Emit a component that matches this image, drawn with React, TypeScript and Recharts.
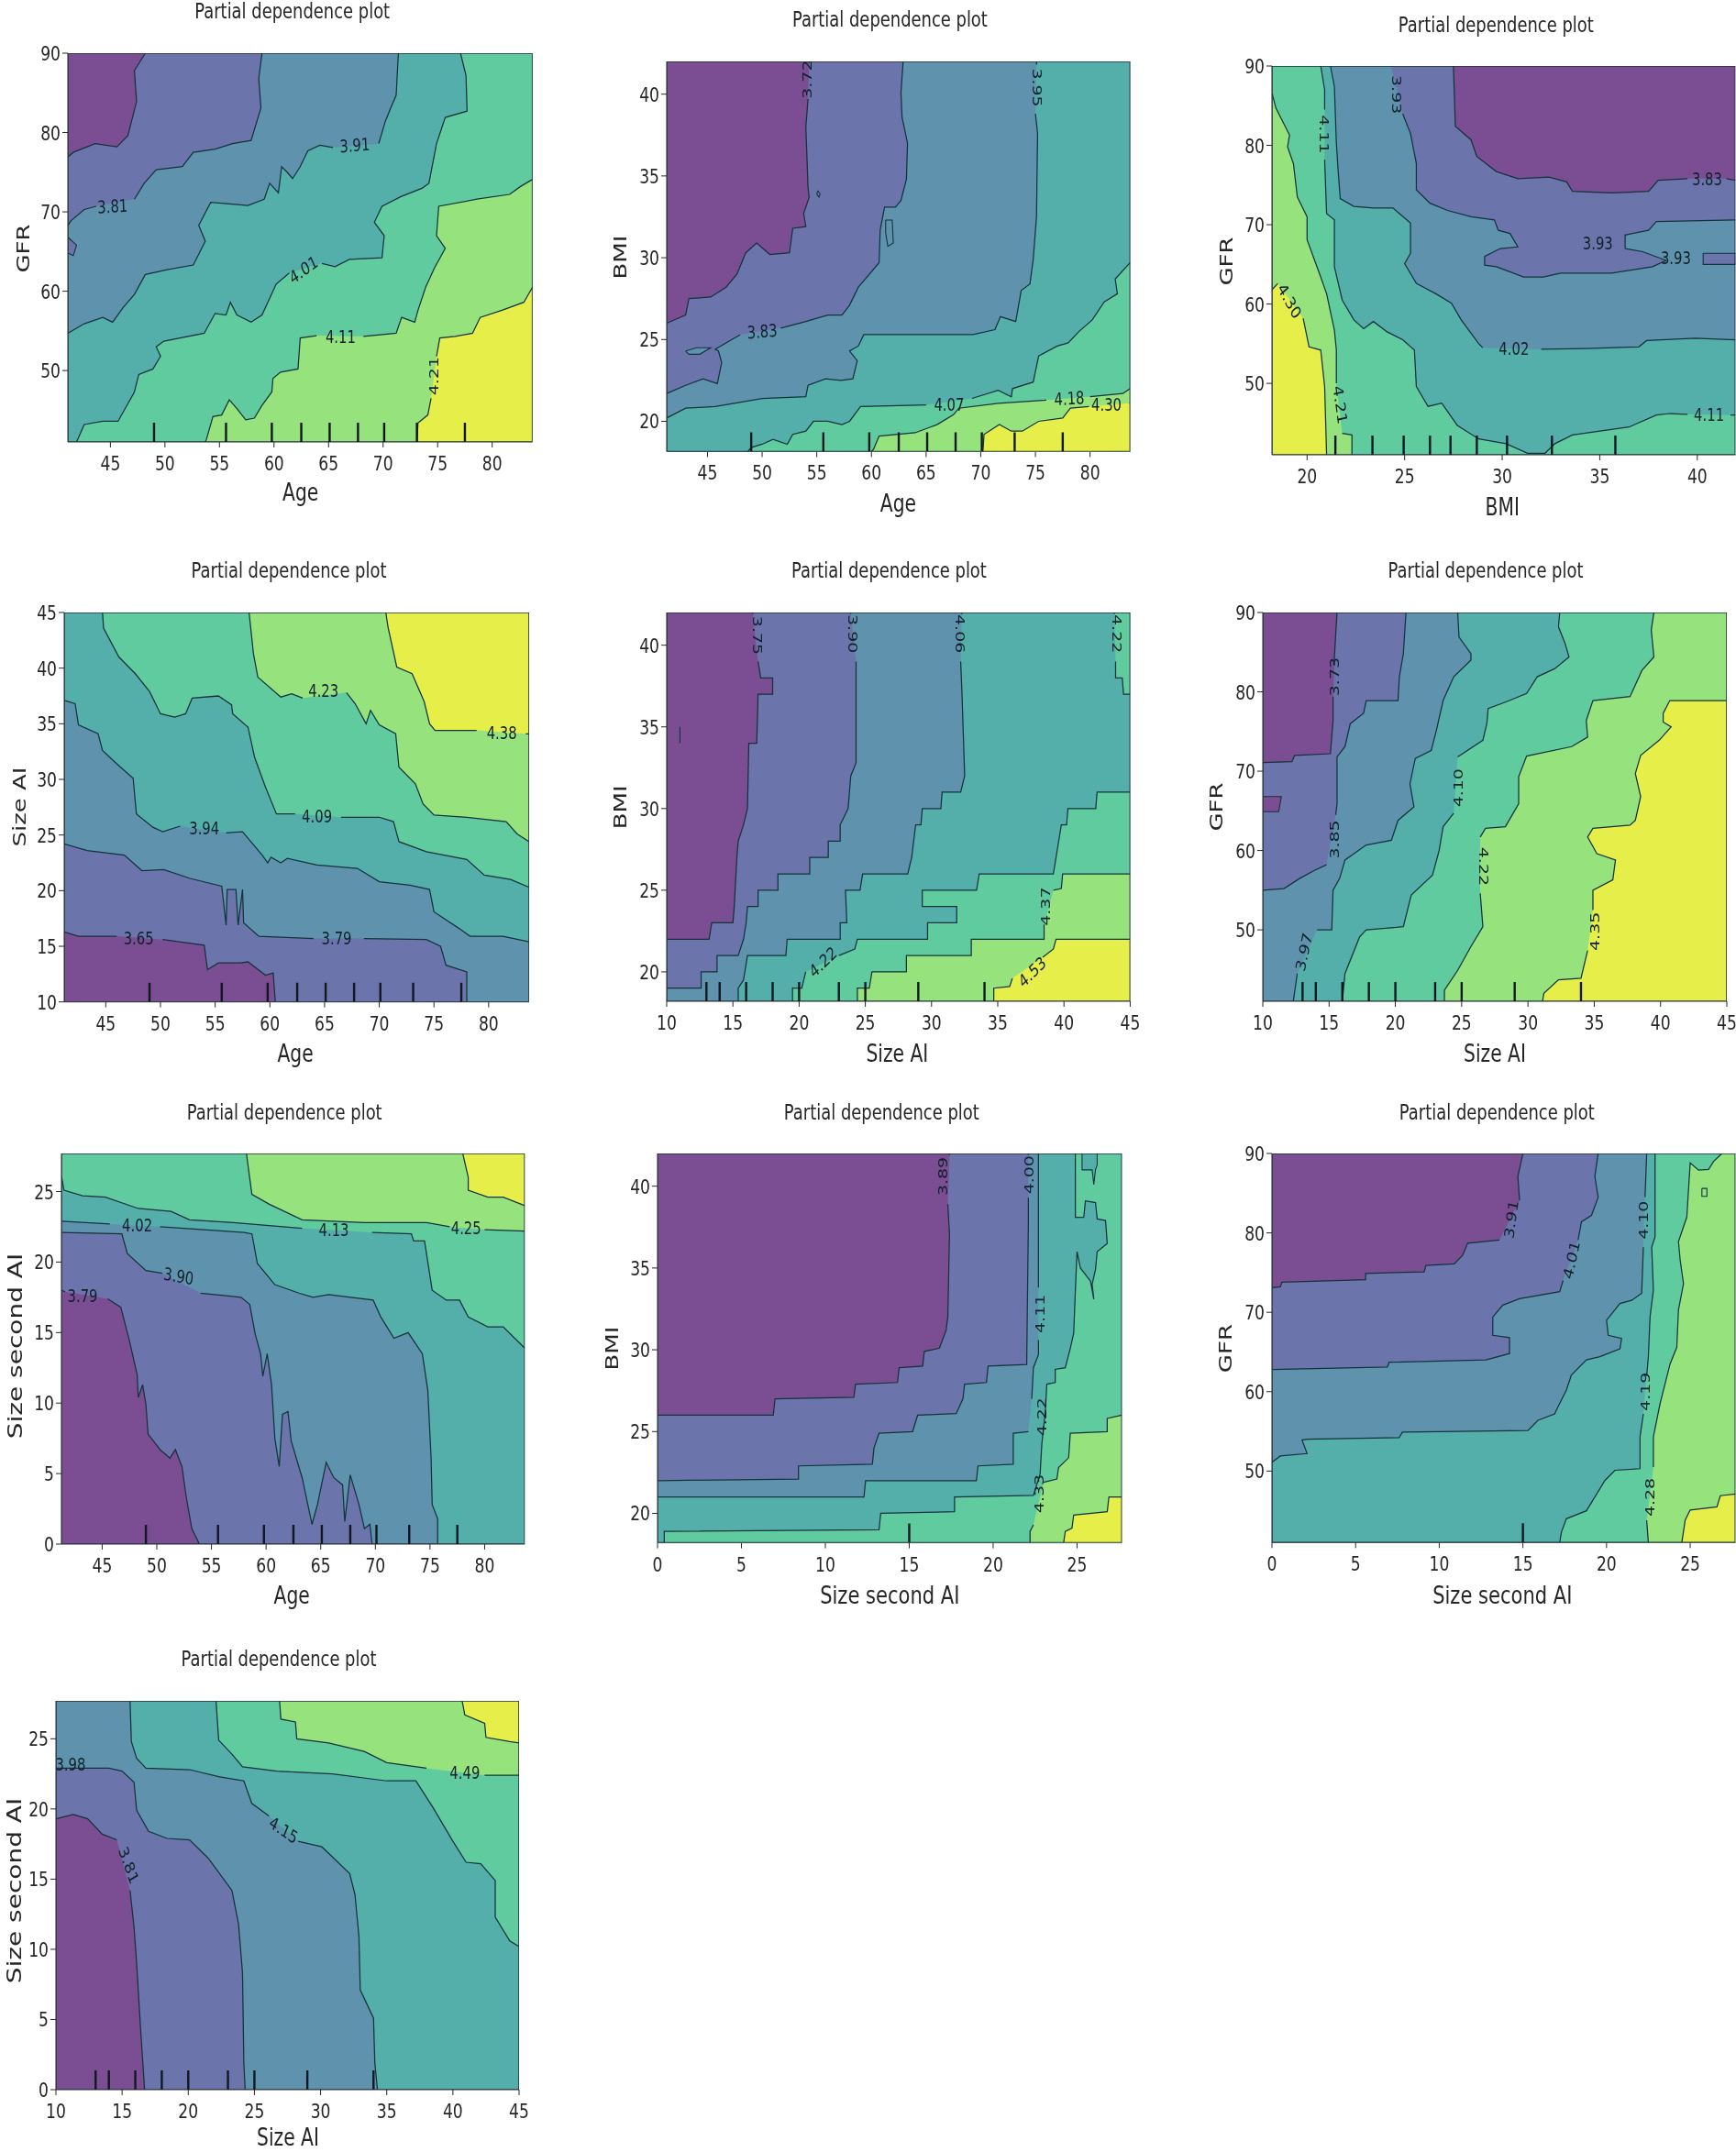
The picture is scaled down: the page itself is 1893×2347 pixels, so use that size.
import React from 'react';
import { ScatterChart, Scatter, XAxis, YAxis } from 'recharts';

type Pt = [number, number];
type Lab = [number, number, string, number];

const viridis = ['#7B4D92', '#6C74AC', '#5F93AD', '#54AFAB', '#60CB9E', '#96E37E', '#E6EE49'];
const TITLE = 'Partial dependence plot';

const ageTicks = [45, 50, 55, 60, 65, 70, 75, 80];
const gfrTicks = [50, 60, 70, 80, 90];
const bmiTicks = [20, 25, 30, 35, 40];
const sizeAiTicks = [10, 15, 20, 25, 30, 35, 40, 45];
const secondTicks = [0, 5, 10, 15, 20, 25];

const rugAge = [49, 55.6, 59.8, 62.5, 65.1, 67.7, 70.1, 73.1, 77.5];
const rugBmi = [21.45, 23.35, 24.95, 26.3, 27.35, 28.7, 30.25, 32.55, 35.8];
const rugSizeAi = [13, 14, 16, 18, 20, 23, 25, 29, 34];
const rugSecond = [15];

// ---- Panel 1: Age / GFR
const p1c1: Pt[][] = [[[48.2,90],[47.2,87.8],[47.4,83.9],[46.6,79.6],[45.6,78.2],[43.6,78.6],[41.6,77.5],[41.1,76.9]]];
const p1c2: Pt[][] = [[[58.9,90],[58.6,86.8],[58.8,83.1],[57.9,79],[56.2,78.6],[54.6,77.9],[52.6,77.5],[51.6,75.7],[49.2,75.3],[48.1,73.6],[47.2,71.6]],[[43.7,70.7],[42.6,70.3],[41.4,68.9],[41.1,68.3]]];
const p1c3: Pt[][] = [[[71.4,90],[71.2,84.7],[70.7,83.1],[70.2,81.4],[69.6,78.6]],[[65.4,78.1],[64.2,78.4],[63.1,77.7],[62.4,75.7],[61.7,74.2],[61.2,75],[60.7,75.7],[60.4,72.4],[59.6,73.6],[59.1,71.6],[57.6,70.8],[54.2,71.2],[53.1,68.3],[53.7,66.3],[52.6,63.3],[50.2,62.7],[48.2,62.1],[47.2,59.6],[46.2,58],[45.2,56.1],[44.3,56.7],[42.6,55.9],[41.1,54.7]]];
const p1c4: Pt[][] = [[[77.1,90],[77.6,87.2],[77.7,82.7],[75.7,81.9],[74.9,78.6],[74.2,73.6],[73.6,73],[71.6,71.9],[69.9,70.7],[69.2,68.7],[70.1,67],[69.9,64.2],[66.9,64],[65.6,63.1],[64.4,63.5]],[[61.4,62.3],[60.2,60.9],[58.9,57],[57.9,56.1],[56.6,57],[56,58.6],[55.6,57],[54.6,57.2],[53.6,54.7],[49.9,53.7],[49.2,53],[49.6,51.8],[48.9,50.2],[47.6,49.5],[47.2,47.3],[45.7,43.6],[44.3,43.6],[42.6,43.2],[41.9,41]]];
const p1c5: Pt[][] = [[[83.7,74.1],[82.6,73.2],[81.6,72.2],[78.6,71.6],[75.1,70.7],[74.9,67],[75.7,65.4],[74.7,62.9],[73.9,60.5],[73.2,57.6],[72.9,56.1],[71.7,56.7],[71.2,54.7],[68.2,54.3]],[[63.9,54.4],[62.4,54.1],[62.2,50.2],[60.6,49.8],[59.9,49],[59.8,47.3],[58.9,45.6],[58.2,44],[57.4,43.8],[56.6,45.2],[55.9,46.3],[55.2,44.4],[54.4,44.2],[53.8,41.3],[53.7,41]]];
const p1c6: Pt[][] = [[[83.7,60.5],[82.9,58.6],[80.9,57.6],[78.9,56.7],[78.2,54.7],[76.6,54.3],[75.2,54.1],[74.9,51.8]],[[74.4,46.5],[74.1,44.4],[73.2,43.4],[73.1,41]]];
const p1Labels: Lab[] = [[45.2,70.7,'3.81',-3],[67.4,78.4,'3.91',-4],[62.7,62.7,'4.01',-30],[66.1,54.3,'4.11',0],[74.6,49.3,'4.21',-90]];
const p1Islands: Pt[][] = [[[41.1,66.8],[41.9,65.8],[41.6,64.5],[41.1,64.8]]];
const p1IslandLevels = [1];

// ---- Panel 2: Age / BMI
const p2c1: Pt[][] = [[[54.3,42],[54.3,41.9]],[[54.2,39.7],[54,38],[54.2,34.3],[54.3,33.7],[53.8,32.7],[54,31.9],[52.8,31.8],[52.5,30.3],[50.7,30.2],[49.5,30.9],[48.5,30.3],[47.7,29],[46.7,28.2],[45.3,27.6],[43.3,27.5],[43,26.5],[41.27,26]]];
const p2c2: Pt[][] = [[[62.9,42],[62.7,40.1],[62.8,38.6],[63.3,37],[63.2,34.8],[62.7,33.5],[62.2,33.1],[61.2,33.1],[60.8,31.7],[60.7,29.7],[59.7,28.9],[58.8,28.2],[58,27.1],[57.3,26.5],[56,26.5],[54,26.1],[51.7,25.7]],[[48,25.3],[45.7,24.4],[46,24.3],[46.3,23.6],[45.9,22.3],[44.6,22.6],[43,22.2],[41.27,21.7]]];
const p2c3: Pt[][] = [[[75.1,42],[75.1,41.8]],[[75,38.8],[75.2,37.6],[75.1,32.5],[74.8,29.9],[74.5,28.4],[73.7,28],[73.2,26.1],[71.8,26.4],[71.3,25.6],[69.3,25.3],[65.7,25.3],[59.3,25.3],[58.8,24.6],[58,24.3],[58.7,23.7],[58.3,22.6],[57.2,22.5],[55.8,22.6],[54.2,22.2],[54,21.5],[50,21.4],[45.7,20.9],[43,20.8],[41.27,20.2]]];
const p2c4: Pt[][] = [[[83.67,29.7],[82.3,28.7],[82.5,27.8],[81.3,27.3],[80.2,26.2],[79,25.5],[78,24.8],[77,24.6],[75.3,24],[74.8,22.4],[72.9,22],[72.8,21.5],[71.6,21.9],[69.2,21.4]],[[65,21],[59,20.9],[58,20],[57.3,19.8],[56,20],[54.7,20],[54,19.4],[52.8,19.2],[52.3,18.6],[51,18.9],[50,18.6],[49,18.4],[48.7,18.15]]];
const p2c5: Pt[][] = [[[83.67,22],[83,21.7],[80,21.5]],[[76,21.3],[71.6,21.1],[68,20.8],[67.5,20.4],[66,19.8],[64,19.3],[60.7,19.1],[60.2,18.3],[60,18.15]]];
const p2c6: Pt[][] = [[[83.67,21.1],[83.6,21.1]],[[79.9,20.9],[78.2,20.8],[77.5,20.2],[75.3,20],[73.8,19.4],[72.8,19.4],[71.7,19.8],[70.3,19.2],[70.2,18.15]]];
const p2Labels: Lab[] = [[54.1,40.9,'3.72',-90],[75.2,40.4,'3.95',90],[50,25.5,'3.83',-4],[67.1,21,'4.07',0],[78.1,21.4,'4.18',-3],[81.5,21,'4.30',0]];
const p2Islands: Pt[][] = [[[43,24.3],[44,24.5],[45.3,24.5],[44.3,24.1],[43.3,24.1],[43,24.3]],[[61.3,32.3],[61.9,32.3],[62,30.9],[61.5,30.7],[61.3,31.5],[61.3,32.3]],[[55.1,34.1],[55.3,33.9],[55.2,33.7],[55,33.9],[55.1,34.1]]];
const p2IslandLevels = [2, 2, 1];

// ---- Panel 3: BMI / GFR
const p3c1: Pt[][] = [[[27.5,90],[27.6,82.4],[28.4,80.7],[28.7,78.6],[29.7,76.7],[30.8,75.8],[32.4,76],[33.3,75.4],[33.6,74.2],[35.6,74],[37.5,74.2],[38,75.6],[39.5,75.8]],[[41.5,75.8],[41.95,75.6]]];
const p3c2: Pt[][] = [[[24.3,90],[24.3,89.9]],[[24.9,84],[25.3,81.5],[25.6,77.7],[25.6,74.4],[26.3,72.7],[27.2,71.8],[28.4,71],[29.6,70.6],[29.8,69.3],[30.4,68.9],[30.8,67.2],[29.9,67],[29.1,66],[29.1,64.9],[29.7,64.7],[31.1,63.4],[32.1,63.4],[33,63.9],[35.6,63.9],[37.7,64.7],[38.4,65.5],[37.2,66.6],[36.3,67],[36.3,68.7],[37.5,69.3],[37.9,70.4],[41.95,70.6]]];
const p3c3: Pt[][] = [[[21.2,90],[21.4,87.4],[21.5,80.3],[21.6,76.5],[21.7,73.3],[22.4,72.3],[23.4,72.1],[24.4,72.1],[25.3,70.2],[25.3,66.4],[25,65.1],[25.6,62.6],[26.6,61.3],[27.4,60.1],[27.9,58],[28.8,55],[29,54.5]],[[32,54.3],[34.3,54.4],[37,54.6],[37.4,55.4],[39.9,55.7],[41.95,55.5]]];
const p3c4: Pt[][] = [[[20.7,90],[20.9,87],[20.9,84.5]],[[20.9,78.2],[21,71.4],[21.4,70.6],[21.4,64.7],[21.8,60.5],[22.4,58],[22.9,56.9],[23.4,57.8],[24.1,56.5],[24.9,55.5],[25.5,54.2],[25.6,49.6],[26.2,47.1],[26.9,47.5],[27.7,44.7],[28.8,43],[30.2,42.4],[31.3,41.2],[32.2,41.2],[32.7,42.4],[33.6,43.5],[36.5,44.5],[37.9,46],[38.6,46.2],[39.5,46.1]],[[41.7,46],[41.95,46]]];
const p3c5: Pt[][] = [[[18.2,86.6],[18.4,84.7],[19.1,81.3],[19,79.8],[19.3,77.7],[19.5,73.5],[20,71],[20,68.1],[20.7,63.4],[21,61.3],[21.4,56.7],[21.5,54.2],[21.5,50]],[[21.8,43.7],[22.3,43.5],[22.3,41]]];
const p3c6: Pt[][] = [[[18.2,61.8],[18.5,62.6]],[[19.8,58.2],[20.1,54.6],[20.7,54.2],[20.9,49.6],[21,41]]];
const p3Labels: Lab[] = [[24.6,86.4,'3.93',90],[40.5,75.8,'3.83',0],[20.9,81.4,'4.11',90],[30.6,54.4,'4.02',0],[40.6,46.1,'4.11',0],[21.7,47.3,'4.21',80],[19.1,60.4,'4.30',55],[34.9,67.7,'3.93',0],[38.9,65.8,'3.93',0]];
const p3Islands: Pt[][] = [[[40.3,66.4],[41.95,66.4],[41.95,65],[40.3,65],[40.3,66.4]]];
const p3IslandLevels = [1];

// ---- Panel 4: Age / Size AI
const p4c1: Pt[][] = [[[41.2,16.3],[42.5,15.9],[46,15.9]],[[50.2,15.6],[54,15.1],[54.3,12.9],[55.3,13.5],[57.3,13.5],[58,13.6],[59.6,12.4],[60.3,12.6],[60.5,10]]];
const p4c2: Pt[][] = [[[41.2,24.2],[43.3,23.6],[46.7,23.2],[48.3,21.8],[50.3,21.9],[52.7,21.1],[55.6,20.4],[56,16.9],[56.1,20.1],[56.9,20.1],[57.1,16.9],[57.5,20.1],[57.6,17.1],[59,15.9],[64,15.7]],[[68.6,15.7],[74.3,15.6],[75.6,15],[76.1,13.3],[78,12.7],[78,10]]];
const p4c3: Pt[][] = [[[41.2,37.1],[42.2,36.8],[42.5,34.9],[44.3,34.1],[44.7,32.6],[46,31.4],[47.5,30.1],[47.8,26.9],[49.3,25.7],[50.2,25.3],[51.8,25.8]],[[56,25.2],[57.5,25.3],[59.3,23.2],[59.8,22.5],[60.1,23],[61,22.5],[61.6,22.9],[64.3,22.3],[68,22],[70,20.8],[72.8,20.5],[74.6,20.1],[75,18.1],[77.3,16.6],[78.3,15.9],[81.3,15.9],[83.7,15.4]]];
const p4c4: Pt[][] = [[[44.7,45],[44.8,43.6],[46.2,41],[47.7,39.5],[49,37.9],[50,35.9],[51.3,35.6],[52.3,35.9],[52.9,37.3],[55.3,37.5],[56.5,36.7],[56.6,35.9],[58,34.7],[58.6,32],[59.6,29.3],[60.6,26.9],[62.3,26.9]],[[66.5,26.6],[70,26.6],[71.3,26.2],[71.8,24.4],[74.3,23.5],[78,22.8],[79.6,21.4],[82,21],[83.7,20.3]]];
const p4c5: Pt[][] = [[[58.1,45],[58.5,41.3],[58.9,39.2],[61,37.4],[62,37.7],[63,37.3]],[[67,37.8],[67.8,36.8],[68.8,35],[69.2,36.2],[70,34.9],[71.5,34.1],[71.8,31.1],[73.3,29.6],[74,27.8],[75,26.8],[78,26.6],[81.6,26.2],[82.6,25.1],[83.7,24.4]]];
const p4c6: Pt[][] = [[[70.6,45],[70.8,43.7],[71.6,40.1],[73,39.5],[74.1,37],[74.6,35],[75.1,34.4],[78.9,34.4]],[[83.4,34.1],[83.7,34.1]]];
const p4Labels: Lab[] = [[48.0,15.7,'3.65',0],[66.1,15.7,'3.79',0],[54.0,25.6,'3.94',0],[64.3,26.7,'4.09',0],[64.9,38,'4.23',0],[81.2,34.2,'4.38',0]];

// ---- Panel 5: Size AI / BMI
const p5c1: Pt[][] = [[[16.5,42],[16.5,41.9]],[[16.9,39],[17.1,38],[18,38],[18,37],[16.9,37],[16.8,34],[16.2,34],[16.1,30],[15.8,29],[15.4,28],[15.3,27],[15.1,24],[15,23],[13.4,23],[13.2,22],[10,22]]];
const p5c2: Pt[][] = [[[23.9,42],[23.9,41.9]],[[24.3,39],[24.3,32.8],[23.9,32],[23.7,30],[23.1,29],[23.1,28],[22.2,28],[22.2,27],[20.8,27],[20.8,26],[18.4,26],[18.4,25],[16.9,25],[16.9,24],[16.1,24],[16,23],[15.8,22],[15.4,21],[13.8,21],[13.8,20],[12.6,20],[12.6,19],[10,19]]];
const p5c3: Pt[][] = [[[32.3,42],[32.3,41.9]],[[32.2,39],[32.3,37],[32.5,32],[32.2,31],[30.8,31],[30.7,30],[29.3,30],[29.2,29],[28.8,29],[28.5,27],[28.2,26],[24.8,26],[24.6,25],[23.5,25],[23.6,23],[23.1,23],[23.1,22],[19.1,22],[19,21],[16.1,21],[15.8,19.5],[15.4,19],[15.4,18.2]]];
const p5c4Top: Pt[][] = [[[43.8,42],[43.8,41.9]],[[43.9,39],[43.9,38],[44.4,38],[44.5,37],[45,37]]];
const p5c4: Pt[][] = [[[45,31],[42.5,31],[42.4,30],[40.3,30],[40.2,29],[39.8,29],[39.4,27],[39.2,26],[33.6,26],[33.4,25],[29.3,25],[29.3,24],[31.9,24],[31.9,23],[29.7,23],[29.7,22],[24.4,22],[24.2,21.4],[23,21]],[[20.5,20],[20.2,19],[19.5,19],[19.5,18.2]]];
const p5c5: Pt[][] = [[[45,26],[39.9,26],[39.8,25.1],[39.2,25]],[[38.5,22.9],[38.5,22],[33,22],[33,21],[28.1,21],[28.1,20],[25.5,20],[25.3,19],[24.4,19],[24.4,18.2]]];
const p5c6: Pt[][] = [[[45,22],[39.4,22],[39.2,21.4],[38.4,20.9]],[[36.1,19.6],[35.9,19.1],[34.7,19],[34.7,18.2]]];
const p5Labels: Lab[] = [[16.9,40.6,'3.75',90],[24.1,40.7,'3.90',90],[32.2,40.7,'4.06',90],[44,40.7,'4.22',90],[21.8,20.6,'4.22',-38],[38.6,24,'4.37',-90],[37.6,20,'4.53',-38]];
const p5Islands: Pt[][] = [[[11,35],[11,34]]];
const p5IslandLevels = [0];

// ---- Panel 6: Size AI / GFR
const p6c1: Pt[][] = [[[15.6,90],[15.4,84.4],[15.4,83.3]],[[15.3,79.4],[15.3,76.4],[15.1,72.2],[12.4,72],[12.2,71.2],[10,71.1]]];
const p6c2: Pt[][] = [[[20.8,90],[20.6,84.8],[20.3,81.9],[20.2,78.9],[17.8,78.9],[17.6,77.3],[16.6,76],[16.2,73.1],[15.6,71.8],[15.6,65.9],[15.5,64.5]],[[14.8,58.2],[13.9,57.5],[12.8,56.5],[11.6,55.2],[10,55]]];
const p6c3: Pt[][] = [[[24.7,90],[24.8,86.9],[25.7,84.8],[25.7,84],[24.4,81.9],[23.6,78.9],[23.1,75.2],[22.7,72.6],[21.5,71.6],[21.1,68.4],[21.4,65.5],[20.2,63.8],[19.7,61.3],[17.8,60.7],[16.2,58.8],[15.8,56.5],[15.3,55],[15.2,50],[14.1,50]],[[12.6,44.5],[12.3,41]]];
const p6c4: Pt[][] = [[[32.4,90],[32.3,88.2],[32.8,86.1],[33.1,84.4],[32,82.9],[30.7,81.9],[29.9,79.8],[28.3,78.7],[27,77.9],[26.9,76],[26.6,73.9],[24.7,71.8]],[[24.4,64.7],[23.6,63],[23.3,60],[22.8,56.9],[21.2,54.4],[20.6,50.4],[17.8,50],[17.3,49.1],[16.2,44.5],[16,41]]];
const p6c5: Pt[][] = [[[39.5,90],[39.3,87.8],[39.5,84.4],[38.6,82.7],[37.7,79.4],[34.9,78.9],[34.4,76.4],[34.5,74.3],[33.3,73.1],[29.9,71.9],[29.3,69.3],[29.3,65.9],[28.3,63],[26.8,62.8],[26.4,61.7]],[[26.4,54.6],[26.6,50.4],[25.7,47.9],[24.7,44.9],[23.7,42.4],[23.7,41]]];
const p6c6: Pt[][] = [[[45,78.9],[40.7,78.9],[40.2,77.3],[40.2,76.2],[40.8,75.6],[39.9,73.9],[38.5,72],[38.1,69.7],[38.5,66.8],[38.1,63.8],[37.7,63.2],[34.9,62.8],[34.5,61.7],[35.2,59.6],[36.6,58.8],[36.4,56.3],[34.9,55],[34.9,52.5]],[[34.5,47.4],[34,43.9],[32.3,43.7],[31.2,42],[31.1,41]]];
const p6Labels: Lab[] = [[15.4,81.9,'3.73',-90],[15.4,61.4,'3.85',-90],[13.1,47.2,'3.97',-75],[24.7,67.9,'4.10',-90],[26.7,58,'4.22',90],[35,49.8,'4.35',-90]];
const p6Islands: Pt[][] = [[[10,66.8],[11.4,66.8],[11.2,64.9],[10,64.9]]];
const p6IslandLevels = [0];

// ---- Panel 7: Age / Size second AI
const p7c1: Pt[][] = [[[41.27,18],[41.6,17.9]],[[45.5,17.4],[46.7,16.8],[47.5,14.4],[48.2,12],[48.3,10.4],[48.7,11.3],[49,9.9],[49.2,7.8],[50.3,6.7],[51.2,6.1],[51.7,6.7],[52.3,5.5],[52.7,3.3],[53.2,1.1],[53.9,0]]];
const p7c2: Pt[][] = [[[41.27,22.1],[46.8,22],[47.3,20.6],[49,19.4],[50.5,19.2]],[[54,17.8],[57.7,17.5],[58.5,17],[59,14.9],[59.5,13.5],[59.7,11.9],[60.1,13.5],[60.5,11.3],[60.8,7.5],[61.2,5.5],[61.5,9.2],[62,9.4],[62.3,7.3],[63.3,4.7],[64.2,1.4],[64.7,2.8],[65.5,5.8],[66.2,4.7],[67,4.2],[67.2,1.6],[67.7,4.9],[68.5,2.8],[69,1.1],[69.5,1.4],[69.7,0]]];
const p7c3: Pt[][] = [[[41.27,22.9],[45.7,22.7]],[[50.3,22.5],[58,22.1],[58.7,22],[59.2,19.9],[60.8,18.4],[63,17.8],[64.3,17.5],[65.7,17.7],[69.8,17.3],[70.5,16.1],[71.7,14.6],[73,15],[74.3,13.5],[74.8,10.9],[75.1,6.1],[75.2,2.8],[75.7,1.8],[75.7,0]]];
const p7c4: Pt[][] = [[[41.27,26.1],[41.5,25.1],[43.2,24.7],[45.3,24.6],[48.3,23.8],[51.3,23.6],[53,23],[57,22.8],[63.3,22.4]],[[69.7,22.1],[73.3,22],[73.5,21.5],[74.5,21.5],[75.2,18],[76.5,17.3],[77.7,17.3],[78.5,16.1],[80.3,15.4],[81.7,15.4],[83.67,13.9]]];
const p7c5: Pt[][] = [[[58.2,27.7],[58.7,24.8],[60.3,24.1],[63.3,23],[69,22.8],[74.7,22.8],[76.8,22.5]],[[80,22.3],[83.67,22.2]]];
const p7c6: Pt[][] = [[[78,27.7],[78.5,26],[78.5,25.1],[80.3,24.6],[81.7,24.6],[83.67,24]]];
const p7Labels: Lab[] = [[43.2,17.6,'3.79',0],[48.2,22.6,'4.02',0],[52,19,'3.90',8],[66.2,22.3,'4.13',0],[78.3,22.4,'4.25',0]];

// ---- Panel 8: Size second AI / BMI
const p8c1: Pt[][] = [[[17.4,42],[17.4,41.9]],[[17.3,38.9],[17.4,37.1],[17.3,32],[17.2,31.2],[16.8,30.1],[15.9,29.9],[15.8,29],[14.4,28.9],[14.3,28],[11.8,27.9],[11.7,27.1],[7,27],[6.9,26],[0,26]]];
const p8c2: Pt[][] = [[[22.1,42],[22.1,41.9]],[[22.1,39.3],[22.1,37.9],[22,29.1],[19.7,29],[19.6,28],[18.3,27.9],[18.2,27],[17.8,26.1],[15.5,26],[15.2,25],[13.2,24.9],[12.9,24],[12.8,23],[8.4,22.9],[8.4,22.1],[0,22]]];
const p8c3: Pt[][] = [[[22.7,42],[22.7,39.3],[22.7,37.9],[22.7,33.8]],[[22.7,30.6],[22.7,29.7],[22.4,28.9],[22.3,27]],[[22.1,25],[21.2,24.9],[21.2,23],[19.1,22.9],[19,22],[12.4,22],[12.3,21],[0,21]]];
const p8c4: Pt[][] = [[[24.9,42],[24.9,38.1],[25.4,38.1],[25.5,39.1],[26.1,39],[26.2,38],[26.7,37.9],[26.8,36.5],[26.2,36],[26.1,34.9],[25.9,34],[26,33.1],[25.8,34.2],[25.2,35],[25,36],[24.9,33.6],[24.8,31],[24.6,30.1],[24.3,28.9],[23.7,28.8],[23.7,28],[23.2,27.9],[23.1,26.1],[22.9,24.2],[22.8,22.4],[22.4,21.1],[17.7,21],[17.7,20.1],[13.3,20],[13.2,19],[0.4,18.9],[0.4,18.2]]];
const p8c5: Pt[][] = [[[27.67,26],[26.8,25.8],[26.8,25],[24.6,24.9],[24.5,23.4],[23.9,22.8],[23.8,22.1],[23,21.9]],[[22.4,19.3],[22.2,18.9],[22.2,18.2]]];
const p8c6: Pt[][] = [[[27.67,21],[26.9,21],[26.8,20.1],[24.8,19.9],[24.7,19.1],[24.3,18.9],[24.2,18.2]]];
const p8Labels: Lab[] = [[17,40.6,'3.89',-90],[22.1,40.7,'4.00',-90],[22.8,32.2,'4.11',-90],[22.9,25.9,'4.22',-90],[22.7,21.2,'4.33',-90]];
const p8Islands: Pt[][] = [[[25.3,42],[25.3,41],[25.9,41],[26,40.1],[26.1,41],[26.2,41.3],[26.2,42]]];
const p8IslandLevels = [3];

// ---- Panel 9: Size second AI / GFR
const p9c1: Pt[][] = [[[15,90],[14.7,87.1],[14.8,84.1]],[[13.6,79.1],[11.7,78.7],[11.4,77.2],[10.9,76.1],[9.2,75.9],[9.1,75.1],[5.6,74.9],[5.6,74.1],[0.6,73.8],[0.5,73.2],[0,73.1]]];
const p9c2: Pt[][] = [[[19.5,90],[19.3,87.1],[19.5,84.5],[19.1,82.2],[18.5,81.4],[18.3,79.1]],[[17.4,74],[17.2,72.6],[14.8,71.7],[13.8,70.9],[13.2,69.4],[13.2,67.1],[14.2,66.8],[14.2,64.8],[12.8,64],[7,63.7],[6.9,63.1],[0,62.8]]];
const p9c3: Pt[][] = [[[22.4,90],[22.3,84.5]],[[22.2,78.2],[22.1,72.4],[21.5,71.5],[20.8,71.1],[20,69],[20.1,67.1],[20.9,66.7],[20.8,65.4],[19.6,64.4],[18.8,64],[17.9,62.1],[17.6,60.2],[17.1,58.1],[16.9,57.2],[15.9,56.4],[15.3,55.1],[7.8,54.9],[7.6,54.2],[2.1,54],[1.8,53.9],[2.1,52.2],[0.5,51.9],[0,51.1]]];
const p9c4: Pt[][] = [[[22.9,90],[22.9,79.5],[22.7,78.2],[22.8,72.8],[22.6,69.4],[22.5,64.4],[22.4,62]],[[22.2,57.2],[22,54.3],[22,50.3],[20.5,50.1],[19.9,48.8],[18.8,45],[17.6,44],[17.3,42.3],[17.2,41]]];
const p9c5: Pt[][] = [[[26.9,90],[26.4,89],[26.1,88],[25.5,87.9],[25,88.8],[24.9,85.4],[24.8,82],[24.3,78.9],[24.4,76.6],[24.6,73.6],[24.3,70.3],[24.2,65.6],[23.8,63.5],[23.2,58.5],[22.8,54.3],[22.8,50.5]],[[22.4,43.8],[22.5,41]]];
const p9c6: Pt[][] = [[[27.7,47.1],[26.8,46.9],[26.6,45.5],[25,45.1],[24.7,43.8],[24.5,41]]];
const p9Labels: Lab[] = [[14.3,81.7,'3.91',-80],[17.9,76.6,'4.01',-75],[22.2,81.6,'4.10',-90],[22.3,60,'4.19',-90],[22.6,46.7,'4.28',-90]];
const p9Islands: Pt[][] = [[[25.7,85.6],[26,85.6],[26,84.6],[25.7,84.6],[25.7,85.6]]];
const p9IslandLevels = [5];

// ---- Panel 10: Size AI / Size second AI
const p10c1: Pt[][] = [[[10,19.3],[11.3,19.6],[12.4,19.3],[13.5,18.2],[14.6,17.8]],[[15.6,14.2],[15.9,11.6],[16.1,9],[16.4,4.3],[16.7,0]]];
const p10c2: Pt[][] = [[[10,22.9],[14,22.9],[15,22.7],[15.9,21.9],[16.1,19.9],[17,18.4],[18.4,17.9],[20.1,17.8],[21.5,16.5],[23.3,14.2],[23.8,11.8],[24.1,8.3],[24.2,1.9],[24.3,0]]];
const p10c3: Pt[][] = [[[15.6,27.7],[15.7,24.8],[16.1,23.6],[16.8,22.9],[20.1,22.8],[22.3,22.3],[24.2,22],[24.8,20.4],[26.1,19.5]],[[28.3,17.7],[30.1,17.3],[32.2,15.4],[32.6,13.9],[32.9,10.9],[33,7.1],[34,5.1],[34.1,1.9],[34.3,0]]];
const p10c4: Pt[][] = [[[22.1,27.7],[22.3,24.9],[23.3,23.9],[24.1,23],[26.7,22.7],[30.9,22.5],[35,22],[37.2,22],[38.5,20.1],[40,17.7],[41,16.2],[42.1,16.1],[43.2,14.9],[43.2,12.3],[44.3,10.6],[45,10.2]]];
const p10c5: Pt[][] = [[[26.9,27.7],[27,26.4],[28.1,26.2],[28.2,25],[30.6,24.7],[33.3,24.1],[35,23.3],[38,22.9]],[[42.4,22.4],[45,22.4]]];
const p10c6: Pt[][] = [[[40.7,27.7],[40.9,26.7],[42.4,26.1],[42.5,25.1],[44.3,24.8],[45,24.7]]];
const p10Labels: Lab[] = [[11.1,23.2,'3.98',0],[15.5,16,'3.81',65],[27.2,18.5,'4.15',28],[40.9,22.6,'4.49',0]];

const lowLeft = ['BL', 'BR', 'TR'];
const lowTopLeft = ['BR', 'TR', 'TL'];
const bottomToTop = ['BR', 'TR'];
const toBR = ['BR'];
const toTR = ['TR'];
const toTopLeft = ['TR', 'TL'];
const toBL = ['BL'];
const leftBelow = ['BR', 'BL', 'TL'];

const panels = [
  { box: [74.3, 58, 506.7, 424], xd: [41.1, 83.7], yd: [41, 90], xt: ageTicks, yt: gfrTicks, xl: 'Age', yl: 'GFR', rug: rugAge, labels: p1Labels, islands: p1Islands, islandLevels: p1IslandLevels,
    title: [319, 20], xlp: [328, 546], ylp: [32, 271],
    levels: [[p1c1, lowLeft], [p1c2, lowLeft], [p1c3, lowLeft], [p1c4, bottomToTop], [p1c5, toBR], [p1c6, toBR]] },
  { box: [726.6, 66.5, 505.4, 425.5], xd: [41.27, 83.67], yd: [18.15, 42], xt: ageTicks, yt: bmiTicks, xl: 'Age', yl: 'BMI', rug: rugAge, labels: p2Labels, islands: p2Islands, islandLevels: p2IslandLevels,
    title: [970, 28], xlp: [979, 558], ylp: [683, 280],
    levels: [[p2c1, lowLeft], [p2c2, lowLeft], [p2c3, lowLeft], [p2c4, toBR], [p2c5, toBR], [p2c6, toBR]] },
  { box: [1386.7, 72, 505.3, 424], xd: [18.2, 41.95], yd: [41, 90], xt: bmiTicks, yt: gfrTicks, xl: 'BMI', yl: 'GFR', rug: rugBmi, labels: p3Labels, islands: p3Islands, islandLevels: p3IslandLevels,
    title: [1631, 34.5], xlp: [1638, 562], ylp: [1344, 285],
    levels: [[p3c1, leftBelow], [p3c2, leftBelow], [p3c3, leftBelow], [p3c4, leftBelow], [p3c5, toBL], [p3c6, toBL]] },
  { box: [70, 668, 507, 424.7], xd: [41.2, 83.7], yd: [10, 45], xt: ageTicks, yt: sizeAiTicks, xl: 'Age', yl: 'Size AI', rug: rugAge, labels: p4Labels,
    title: [315, 630], xlp: [322, 1158], ylp: [28, 880],
    levels: [[p4c1, lowTopLeft], [p4c2, lowTopLeft], [p4c3, toTopLeft], [p4c4, toTR], [p4c5, toTR], [p4c6, toTR]] },
  { box: [726.6, 667.6, 505.4, 424], xd: [10, 45], yd: [18.2, 42], xt: sizeAiTicks, yt: bmiTicks, xl: 'Size AI', yl: 'BMI', rug: rugSizeAi, labels: p5Labels, islands: p5Islands, islandLevels: p5IslandLevels,
    title: [969, 630], xlp: [978, 1158], ylp: [683, 880],
    levels: [[p5c1, lowLeft], [p5c2, lowLeft], [p5c3, bottomToTop], [p5c4Top, toTR], [p5c4, toBR], [p5c5, toBR], [p5c6, toBR]],
    levelIndex: [1, 2, 3, 4, 4, 5, 6] },
  { box: [1377, 668, 506, 424], xd: [10, 45], yd: [41, 90], xt: sizeAiTicks, yt: gfrTicks, xl: 'Size AI', yl: 'GFR', rug: rugSizeAi, labels: p6Labels, islands: p6Islands, islandLevels: p6IslandLevels,
    title: [1620, 630], xlp: [1630, 1158], ylp: [1333, 880],
    levels: [[p6c1, lowLeft], [p6c2, lowLeft], [p6c3, bottomToTop], [p6c4, bottomToTop], [p6c5, bottomToTop], [p6c6, toBR]] },
  { box: [66.8, 1258, 505.2, 426], xd: [41.27, 83.67], yd: [0, 27.7], xt: ageTicks, yt: secondTicks, xl: 'Age', yl: 'Size second AI', rug: rugAge, labels: p7Labels,
    title: [310, 1221], xlp: [318, 1749], ylp: [24, 1468],
    levels: [[p7c1, lowTopLeft], [p7c2, lowTopLeft], [p7c3, lowTopLeft], [p7c4, toTopLeft], [p7c5, toTR], [p7c6, toTR]] },
  { box: [716.7, 1258.4, 506.3, 424.6], xd: [0, 27.67], yd: [18.2, 42], xt: secondTicks, yt: bmiTicks, xl: 'Size second AI', yl: 'BMI', rug: rugSecond, labels: p8Labels, islands: p8Islands, islandLevels: p8IslandLevels,
    title: [961, 1221], xlp: [970, 1749], ylp: [674, 1471],
    levels: [[p8c1, lowLeft], [p8c2, lowLeft], [p8c3, lowLeft], [p8c4, bottomToTop], [p8c5, toBR], [p8c6, toBR]] },
  { box: [1386.7, 1258.4, 505.3, 424.3], xd: [0, 27.7], yd: [41, 90], xt: secondTicks, yt: gfrTicks, xl: 'Size second AI', yl: 'GFR', rug: rugSecond, labels: p9Labels, islands: p9Islands, islandLevels: p9IslandLevels,
    title: [1632, 1221], xlp: [1638, 1749], ylp: [1343, 1471],
    levels: [[p9c1, lowLeft], [p9c2, lowLeft], [p9c3, lowLeft], [p9c4, bottomToTop], [p9c5, bottomToTop], [p9c6, toBR]] },
  { box: [61, 1855, 505, 424], xd: [10, 45], yd: [0, 27.7], xt: sizeAiTicks, yt: secondTicks, xl: 'Size AI', yl: 'Size second AI', rug: rugSizeAi, labels: p10Labels,
    title: [304, 1817], xlp: [314, 2340], ylp: [23, 2062],
    levels: [[p10c1, lowTopLeft], [p10c2, lowTopLeft], [p10c3, bottomToTop], [p10c4, toTR], [p10c5, toTR], [p10c6, toTR]] },
] as any[];

const SX = 0.78;
const INK = '#262626';
const LINE = '#14323C';
const ML = 80, MR = 30, MT = 70, MB = 85;
const FONT = '"DejaVu Sans", sans-serif';
const pts = (a: Pt[]) => a.map(([x, y]) => ({ x, y }));
const noDot = () => <g />;

const squeezed = (x: number, y: number, rotate?: number) =>
  `translate(${x},${y}) scale(${SX},1)${rotate ? ` rotate(${rotate})` : ''}`;

const XTick = (p: any) => (
  <text transform={squeezed(p.x, p.y + 23)} textAnchor="middle" fontFamily={FONT} fontSize={22} fill={INK}>{p.payload.value}</text>
);
const YTick = (p: any) => (
  <text transform={squeezed(p.x, p.y + 8)} textAnchor="end" fontFamily={FONT} fontSize={22} fill={INK}>{p.payload.value}</text>
);
const RugMark = (p: any) => <line x1={p.cx} x2={p.cx} y1={p.cy} y2={p.cy - 21} stroke="#101820" strokeWidth={2.4} />;
const LabelMark = (p: any) => (
  <text transform={squeezed(p.cx, p.cy, p.payload.angle)} textAnchor="middle" dominantBaseline="central" fontFamily={FONT} fontSize={19} fill="#10202A">{p.payload.text}</text>
);

function Panel({ cfg }: { cfg: any }) {
  const [bx, by, bw, bh] = cfg.box;
  const left = bx - ML;
  const top = by - MT;
  const corner: Record<string, Pt> = {
    BL: [cfg.xd[0], cfg.yd[0]], BR: [cfg.xd[1], cfg.yd[0]], TR: [cfg.xd[1], cfg.yd[1]], TL: [cfg.xd[0], cfg.yd[1]],
  };
  const rect = ['BL', 'BR', 'TR', 'TL'].map((k) => corner[k]);
  const frame = [...rect, rect[0]];
  return (
    <div style={{ position: 'absolute', left, top }}>
      <ScatterChart width={bw + ML + MR} height={bh + MT + MB} margin={{ left: 0, right: MR, top: MT, bottom: 0 }}>
        <XAxis type="number" dataKey="x" domain={cfg.xd} ticks={cfg.xt} interval={0} allowDataOverflow height={MB} tickSize={6} tick={XTick} stroke={INK} />
        <YAxis type="number" dataKey="y" domain={cfg.yd} ticks={cfg.yt} interval={0} allowDataOverflow width={ML} tickSize={6} tick={YTick} stroke={INK} />
        <Scatter data={pts(rect)} shape={noDot} line={{ fill: viridis[0], stroke: 'none' }} isAnimationActive={false} />
        {cfg.levels.map(([segs, close]: any, i: number) => (
          <Scatter key={`f${i}`} data={pts([...segs.flat(), ...close.map((k: string) => corner[k])])} shape={noDot}
            line={{ fill: viridis[cfg.levelIndex ? cfg.levelIndex[i] : i + 1], stroke: 'none' }} isAnimationActive={false} />
        ))}
        {(cfg.islands || []).map((isl: Pt[], i: number) => (
          <Scatter key={`i${i}`} data={pts(isl)} shape={noDot}
            line={{ fill: viridis[cfg.islandLevels[i]], stroke: LINE, strokeWidth: 1.1 }} isAnimationActive={false} />
        ))}
        {cfg.levels.flatMap(([segs]: any, i: number) => segs.map((seg: Pt[], j: number) => (
          <Scatter key={`c${i}-${j}`} data={pts(seg)} shape={noDot} line={{ fill: 'none', stroke: LINE, strokeWidth: 1.25 }} isAnimationActive={false} />
        )))}
        <Scatter data={pts(frame)} shape={noDot} line={{ fill: 'none', stroke: '#20333A', strokeWidth: 1.6 }} isAnimationActive={false} />
        <Scatter data={cfg.rug.map((x: number) => ({ x, y: cfg.yd[0] }))} shape={RugMark} isAnimationActive={false} />
        <Scatter data={cfg.labels.map(([x, y, text, angle]: Lab) => ({ x, y, text, angle }))} shape={LabelMark} isAnimationActive={false} />
        <text transform={squeezed(cfg.title[0] - left, cfg.title[1] - top)} textAnchor="middle" fontFamily={FONT} fontSize={23} fill={INK}>{TITLE}</text>
        <text transform={squeezed(cfg.xlp[0] - left, cfg.xlp[1] - top)} textAnchor="middle" fontFamily={FONT} fontSize={cfg.xl.length > 10 ? 27 : 26} fill={INK}>{cfg.xl}</text>
        <text transform={squeezed(cfg.ylp[0] - left, cfg.ylp[1] - top, -90)} textAnchor="middle" fontFamily={FONT} fontSize={cfg.yl.length > 10 ? 28 : 26} fill={INK}>{cfg.yl}</text>
      </ScatterChart>
    </div>
  );
}

export default function App() {
  return (
    <div style={{ position: 'absolute', left: 0, top: 0, width: 1893, height: 2347, overflow: 'hidden', background: '#fff', filter: 'blur(0.7px)' }}>
      {panels.map((cfg, i) => <Panel key={i} cfg={cfg} />)}
    </div>
  );
}
